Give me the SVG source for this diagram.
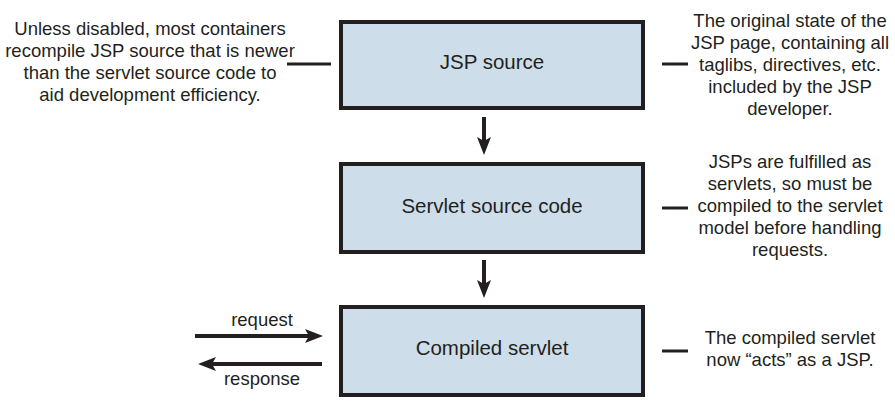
<svg xmlns="http://www.w3.org/2000/svg" width="895" height="403" viewBox="0 0 895 403">
  <style>
    .box { fill: #cddeea; stroke: #231f20; stroke-width: 4; }
    .lbl { font-family: "Liberation Sans", Arial, sans-serif; font-size: 20.5px; fill: #231f20; text-anchor: middle; }
    .note { font-family: "Liberation Sans", Arial, sans-serif; font-size: 18.5px; fill: #231f20; text-anchor: middle; }
    .tick { stroke: #231f20; stroke-width: 3; fill: none; }
    .conn { stroke: #231f20; stroke-width: 4; fill: none; marker-end: url(#ah); }
  </style>
  <defs>
    <marker id="ah" viewBox="0 0 18 14" refX="6" refY="7" markerWidth="18" markerHeight="14" markerUnits="userSpaceOnUse" orient="auto">
      <path d="M0,0 L18,7 L0,14 L4,7 Z" fill="#231f20"/>
    </marker>
  </defs>
  <rect width="895" height="403" fill="#ffffff"/>

  <g id="jsp-source">
    <rect class="box" x="341" y="22" width="302" height="86"/>
    <text class="lbl" x="492" y="69">JSP source</text>
  </g>
  <g id="servlet-source">
    <rect class="box" x="341" y="164" width="302" height="88"/>
    <text class="lbl" x="492" y="213">Servlet source code</text>
  </g>
  <g id="compiled-servlet">
    <rect class="box" x="341" y="307" width="302" height="88"/>
    <text class="lbl" x="492" y="355">Compiled servlet</text>
  </g>

  <g id="note-left">
    <text class="note" x="150" y="35">Unless disabled, most containers</text>
    <text class="note" x="150" y="57">recompile JSP source that is newer</text>
    <text class="note" x="150" y="79">than the servlet source code to</text>
    <text class="note" x="150" y="101">aid development efficiency.</text>
  </g>
  <g id="note-jsp">
    <text class="note" x="790" y="27">The original state of the</text>
    <text class="note" x="790" y="49">JSP page, containing all</text>
    <text class="note" x="790" y="71">taglibs, directives, etc.</text>
    <text class="note" x="790" y="93">included by the JSP</text>
    <text class="note" x="790" y="115">developer.</text>
  </g>
  <g id="note-servlet">
    <text class="note" x="790" y="168">JSPs are fulfilled as</text>
    <text class="note" x="790" y="190">servlets, so must be</text>
    <text class="note" x="790" y="212">compiled to the servlet</text>
    <text class="note" x="790" y="234">model before handling</text>
    <text class="note" x="790" y="256">requests.</text>
  </g>
  <g id="note-compiled">
    <text class="note" x="790" y="344">The compiled servlet</text>
    <text class="note" x="790" y="366">now “acts” as a JSP.</text>
  </g>

  <g id="connectors">
    <line class="tick" x1="287" y1="64" x2="331" y2="64"/>
    <line class="tick" x1="662" y1="64" x2="688" y2="64"/>
    <line class="tick" x1="662" y1="208" x2="688" y2="208"/>
    <line class="tick" x1="662" y1="351" x2="688" y2="351"/>
    <line class="conn" x1="484" y1="117" x2="484" y2="143"/>
    <line class="conn" x1="484" y1="260" x2="484" y2="286"/>
    <line class="conn" x1="195" y1="336" x2="311" y2="336"/>
    <line class="conn" x1="322" y1="364" x2="210" y2="364"/>
    <text class="note" x="262" y="326">request</text>
    <text class="note" x="262" y="385">response</text>
  </g>
</svg>
